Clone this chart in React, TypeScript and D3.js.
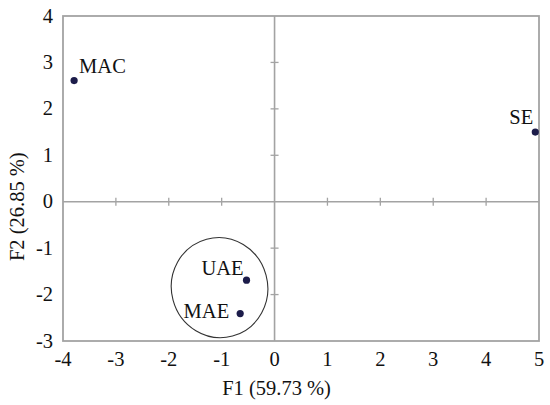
import React from "react";
import * as d3 from "d3";

const names = ["MAC", "SE", "UAE", "MAE"];
const f1 = [-3.79, 4.93, -0.53, -0.65];
const f2 = [2.61, 1.5, -1.69, -2.41];
const xTicks = [-4, -3, -2, -1, 0, 1, 2, 3, 4, 5];
const yTicks = [-3, -2, -1, 0, 1, 2, 3, 4];
const xTitle = "F1 (59.73 %)";
const yTitle = "F2 (26.85 %)";
// ellipse grouping (data units)
const groupCenter = [-1.04, -1.85];
const groupRadii = [0.91, 1.08];

// label placement relative to point (style)
const labelPlace = [
  { anchor: "start", dx: 5, dy: -8 },
  { anchor: "end", dx: -2, dy: -8 },
  { anchor: "end", dx: -3, dy: -5 },
  { anchor: "end", dx: -11, dy: 4 },
];

const W = 550;
const H = 405;
const M = { left: 63, right: 539, top: 16, bottom: 341 };

export default function App() {
  const x = d3.scaleLinear().domain([-4, 5]).range([M.left, M.right]);
  const y = d3.scaleLinear().domain([-3, 4]).range([M.bottom, M.top]);
  const font = '"Liberation Serif", "Times New Roman", Times, serif';
  const grey = "#a3a3a3";
  const ecx = x(groupCenter[0]);
  const ecy = y(groupCenter[1]);
  const erx = x(groupCenter[0] + groupRadii[0]) - ecx;
  const ery = ecy - y(groupCenter[1] + groupRadii[1]);
  const ts = { fontFamily: font, fontSize: "20.5px" };
  return (
    <svg
      width={W}
      height={H}
      style={{ position: "absolute", left: 0, top: 0, background: "#fff", fontFamily: font }}
    >
      <rect x={0} y={0} width={W} height={H} fill="#fff" />
      {/* zero lines */}
      <line x1={M.left} x2={M.right} y1={y(0)} y2={y(0)} stroke={grey} strokeWidth={1.6} />
      <line x1={x(0)} x2={x(0)} y1={M.top} y2={M.bottom} stroke={grey} strokeWidth={1.6} />
      {/* ticks on zero lines */}
      {xTicks.slice(1, -1).filter((t) => t !== 0).map((t) => (
        <line key={"xt" + t} x1={x(t)} x2={x(t)} y1={y(0) - 4} y2={y(0) + 4} stroke={grey} strokeWidth={1.3} />
      ))}
      {yTicks.slice(1, -1).filter((t) => t !== 0).map((t) => (
        <line key={"yt" + t} x1={x(0) - 4} x2={x(0) + 4} y1={y(t)} y2={y(t)} stroke={grey} strokeWidth={1.3} />
      ))}
      {/* frame */}
      <rect
        x={M.left}
        y={M.top}
        width={M.right - M.left}
        height={M.bottom - M.top}
        fill="none"
        stroke={grey}
        strokeWidth={1.8}
      />
      {/* tick labels */}
      {xTicks.map((t) => (
        <text key={"xl" + t} x={x(t)} y={366} textAnchor="middle" style={ts} fill="#111">
          {t}
        </text>
      ))}
      {yTicks.map((t) => (
        <text key={"yl" + t} x={53} y={y(t) + 6.5} textAnchor="end" style={ts} fill="#111">
          {t}
        </text>
      ))}
      {/* titles */}
      <text x={x(0) + 2} y={395} textAnchor="middle" style={ts} fill="#111">
        {xTitle}
      </text>
      <text
        transform={`translate(24, ${y(0) + 5}) rotate(-90)`}
        textAnchor="middle"
        style={ts}
        fill="#111"
      >
        {yTitle}
      </text>
      {/* group ellipse */}
      <ellipse
        cx={ecx}
        cy={ecy}
        rx={erx}
        ry={ery}
        fill="none"
        stroke="#333"
        strokeWidth={1.1}
        transform={`rotate(-15, ${ecx}, ${ecy})`}
      />
      {/* points */}
      {names.map((n, i) => (
        <g key={n}>
          <circle cx={x(f1[i])} cy={y(f2[i])} r={3.6} fill="#1c1c4a" />
          <text
            x={x(f1[i]) + labelPlace[i].dx}
            y={y(f2[i]) + labelPlace[i].dy}
            textAnchor={labelPlace[i].anchor as any}
            style={ts}
            fill="#111"
          >
            {n}
          </text>
        </g>
      ))}
    </svg>
  );
}
